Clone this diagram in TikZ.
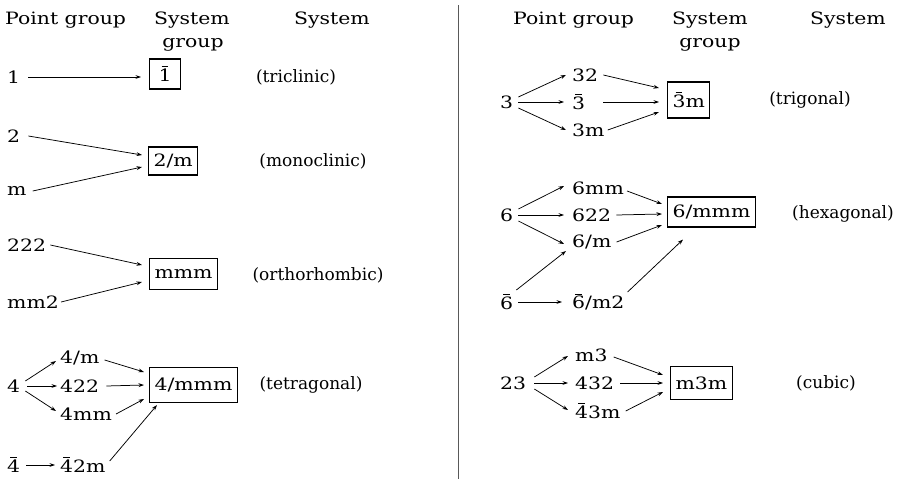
\documentclass[tikz,border=0pt]{standalone}
\usepackage{fontspec}
\setmainfont{DejaVu Serif}[FakeStretch=1.2]
\newfontfamily\namefont{DejaVu Serif}
\usetikzlibrary{arrows.meta}
% digit with a short bar over it (rotoinversion symbols)
\newcommand\barred[1]{\leavevmode\hbox{\setbox0=\hbox{#1}\rlap{\hbox to\wd0{\hss\raisebox{0.84em}{\rule{0.4em}{0.055em}}\hss}}\box0}}
\begin{document}
\begin{tikzpicture}[x=1pt,y=-1pt,
  every node/.style={font=\fontsize{17}{20}\selectfont, inner sep=0pt},
  lbl/.style={anchor=west},
  hdr/.style={anchor=center},
  sysname/.style={anchor=center, font=\fontsize{17}{20}\namefont},
  sysbox/.style={anchor=west, draw, line width=1.1pt, inner xsep=5pt, minimum height=30pt},
  arr/.style={-{Stealth[length=5.5pt,width=3.8pt]}, line width=0.75pt},
  divider/.style={line width=0.9pt, draw=black!65}
]
\useasboundingbox (0,0) rectangle (914,479);

% column headings
\node[lbl] (hpgL) at (5,20) {Point group};
\node[hdr] (hsgL) at (192,20) {System};
\node[hdr] (hsgL2) at (193,45) {group};
\node[hdr] (hsyL) at (332,20) {System};
\node[lbl] (hpgR) at (513,20) {Point group};
\node[hdr] (hsgR) at (710,20) {System};
\node[hdr] (hsgR2) at (710,45) {group};
\node[hdr] (hsyR) at (848,20) {System};

% separator between the two halves
\coordinate (dtop) at (458,5);
\coordinate (dbot) at (458,479);
\draw[divider] (dtop) -- (dbot);

% triclinic
\node[lbl] (p1) at (7,77) {1};
\node[sysbox, minimum width=31pt] (b1) at (149,74) {\barred{1}};
\node[sysname] (s1) at (296,77) {(triclinic)};
\draw[arr] ([xshift=8pt]p1.east) -- ([xshift=-8pt,yshift=-3pt]b1.west);

% monoclinic
\node[lbl] (p2) at (7,136) {2};
\node[lbl] (pm) at (7,191) {m};
\node[sysbox, minimum height=28pt] (b2) at (148,161) {2/m};
\node[sysname] (s2) at (313,161) {(monoclinic)};
\draw[arr] ([xshift=8pt]p2.east) -- ([xshift=-6pt,yshift=6pt]b2.west);
\draw[arr] ([xshift=6pt]pm.east) -- ([xshift=-6pt,yshift=-6pt]b2.west);

% orthorhombic
\node[lbl] (p222) at (7,245) {222};
\node[lbl] (pmm2) at (7,302) {mm2};
\node[sysbox, minimum height=31pt] (b3) at (149,274) {mmm};
\node[sysname] (s3) at (318,275) {(orthorhombic)};
\draw[arr] ([xshift=4pt]p222.east) -- ([xshift=-7pt,yshift=9pt]b3.west);
\draw[arr] ([xshift=2pt]pmm2.east) -- ([xshift=-7pt,yshift=-8pt]b3.west);

% tetragonal
\node[lbl] (p4) at (7,386) {4};
\node[lbl] (p4m) at (60,358) {4/m};
\node[lbl] (p422) at (60,386) {422};
\node[lbl] (p4mm) at (60,414) {4mm};
\node[lbl] (p4b) at (7,465) {\barred{4}};
\node[lbl] (p4b2m) at (60,465) {\barred{4}2m};
\node[sysbox, minimum height=35pt] (b4) at (149,385) {4/mmm};
\node[sysname] (s4) at (311,385) {(tetragonal)};
\draw[arr] ([xshift=5pt,yshift=5pt]p4.east) -- ([xshift=-4pt,yshift=-3pt]p4m.west);
\draw[arr] ([xshift=7pt]p4.east) -- ([xshift=-3pt]p422.west);
\draw[arr] ([xshift=5pt,yshift=-5pt]p4.east) -- ([xshift=-4pt,yshift=3pt]p4mm.west);
\draw[arr] ([xshift=5pt,yshift=-2pt]p4m.east) -- ([xshift=-5pt,yshift=13pt]b4.west);
\draw[arr] ([xshift=7pt]p422.east) -- ([xshift=-5pt]b4.west);
\draw[arr] ([xshift=4pt]p4mm.east) -- ([xshift=-5pt,yshift=-14pt]b4.west);
\draw[arr] ([xshift=6pt]p4b.east) -- ([xshift=-5pt]p4b2m.west);
\draw[arr] ([xshift=4pt,yshift=4pt]p4b2m.east) -- ([xshift=8pt,yshift=-2pt]b4.south west);

% trigonal
\node[lbl] (p3) at (500,102) {3};
\node[lbl] (p32) at (572,75) {32};
\node[lbl] (p3b) at (572,102) {\barred{3}};
\node[lbl] (p3m) at (572,130) {3m};
\node[sysbox, minimum height=36pt] (b5) at (667,100) {\barred{3}m};
\node[sysname] (s5) at (810,100) {(trigonal)};
\draw[arr] ([xshift=5pt,yshift=5pt]p3.east) -- ([xshift=-6pt,yshift=0pt]p32.west);
\draw[arr] ([xshift=5pt]p3.east) -- ([xshift=-8pt]p3b.west);
\draw[arr] ([xshift=5pt,yshift=-6pt]p3.east) -- ([xshift=-6pt,yshift=0pt]p3m.west);
\draw[arr] ([xshift=5pt]p32.east) -- ([xshift=-8pt,yshift=12pt]b5.west);
\draw[arr] ([xshift=18pt]p3b.east) -- ([xshift=-8pt,yshift=-2pt]b5.west);
\draw[arr] ([xshift=3pt]p3m.east) -- ([xshift=-8pt,yshift=-12pt]b5.west);

% hexagonal
\node[lbl] (p6) at (500,215) {6};
\node[lbl] (p6mm) at (572,188) {6mm};
\node[lbl] (p622) at (572,215) {622};
\node[lbl] (p6m) at (572,242) {6/m};
\node[lbl] (p6b) at (500,302) {\barred{6}};
\node[lbl] (p6bm2) at (572,302) {\barred{6}/m2};
\node[sysbox] (b6) at (667,212) {6/mmm};
\node[sysname] (s6) at (843,214) {(hexagonal)};
\draw[arr] ([xshift=5pt,yshift=6pt]p6.east) -- ([xshift=-8pt,yshift=2pt]p6mm.west);
\draw[arr] ([xshift=5pt]p6.east) -- ([xshift=-8pt]p622.west);
\draw[arr] ([xshift=5pt,yshift=-6pt]p6.east) -- ([xshift=-8pt,yshift=-2pt]p6m.west);
\draw[arr] ([xshift=3pt,yshift=-3pt]p6mm.east) -- ([xshift=-5pt,yshift=8pt]b6.west);
\draw[arr] ([xshift=5pt]p622.east) -- ([xshift=-5pt,yshift=-2pt]b6.west);
\draw[arr] ([xshift=5pt]p6m.east) -- ([xshift=-5pt,yshift=-13pt]b6.west);
\draw[arr] ([xshift=3pt,yshift=12pt]p6b.east) -- ([xshift=-6pt,yshift=-9pt]p6m.west);
\draw[arr] ([xshift=5pt]p6b.east) -- ([xshift=-10pt]p6bm2.west);
\draw[arr] ([xshift=3pt,yshift=10pt]p6bm2.east) -- ([xshift=16pt,yshift=-12pt]b6.south west);

% cubic
\node[lbl] (p23) at (500,383) {23};
\node[lbl] (pm3) at (575,355) {m3};
\node[lbl] (p432) at (575,383) {432};
\node[lbl] (p43m) at (575,411) {\barred{4}3m};
\node[sysbox, minimum height=33pt] (b7) at (670,383) {m3m};
\node[sysname] (s7) at (826,383) {(cubic)};
\draw[arr] ([xshift=8pt,yshift=6pt]p23.east) -- ([xshift=-7pt,yshift=-1pt]pm3.west);
\draw[arr] ([xshift=8pt]p23.east) -- ([xshift=-7pt]p432.west);
\draw[arr] ([xshift=8pt,yshift=-6pt]p23.east) -- ([xshift=-7pt,yshift=1pt]p43m.west);
\draw[arr] ([xshift=6pt,yshift=-2pt]pm3.east) -- ([xshift=-7pt,yshift=8pt]b7.west);
\draw[arr] ([xshift=6pt]p432.east) -- ([xshift=-7pt]b7.west);
\draw[arr] ([xshift=5pt]p43m.east) -- ([xshift=-7pt,yshift=-9pt]b7.west);
\end{tikzpicture}
\end{document}
